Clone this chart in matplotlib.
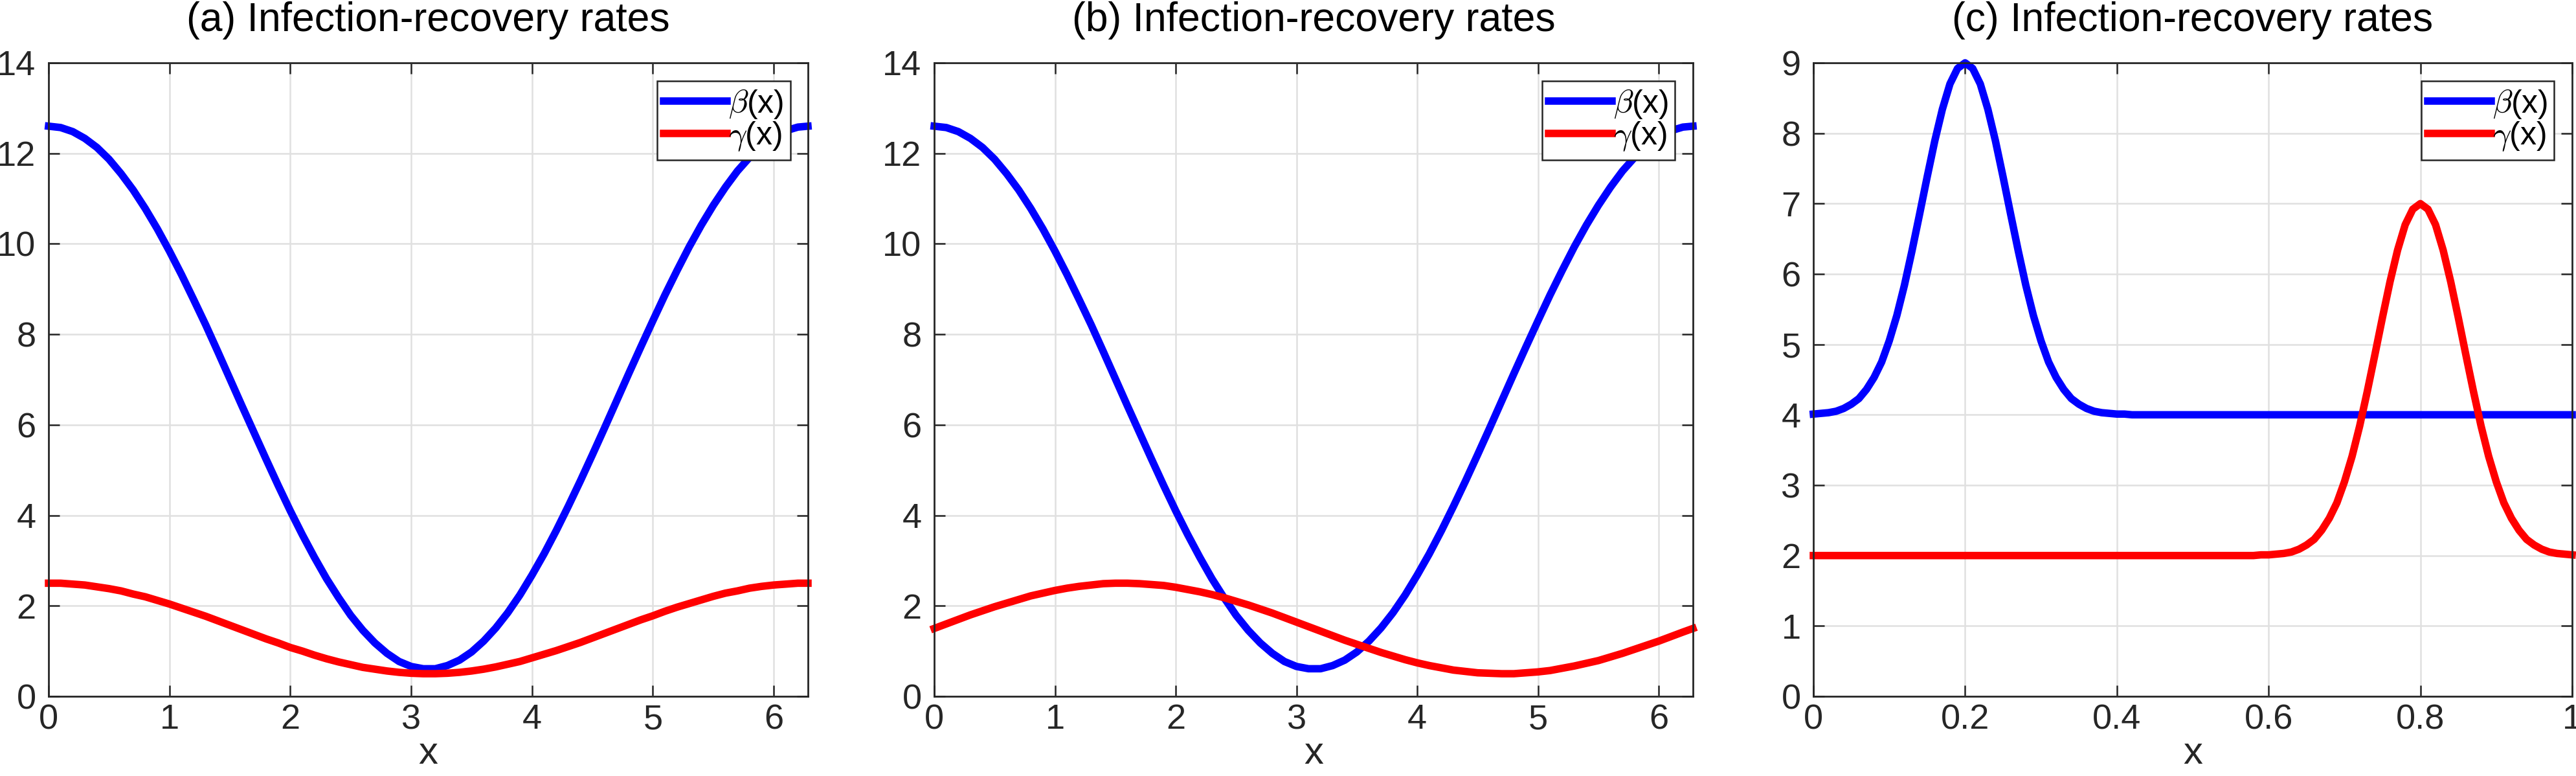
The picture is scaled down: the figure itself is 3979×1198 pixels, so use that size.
import numpy as np
import matplotlib
matplotlib.use("Agg")
import matplotlib.pyplot as plt

plt.rcParams['font.family'] = ['Liberation Sans', 'DejaVu Sans']
plt.rcParams['mathtext.fontset'] = 'cm'

# values, panels (a) and (b)
x_per = [0.0, 0.1, 0.2, 0.3, 0.4, 0.5, 0.6, 0.7, 0.8, 0.9, 1.0, 1.1, 1.2, 1.3, 1.4, 1.5,
         1.6, 1.7, 1.8, 1.9, 2.0, 2.1, 2.2, 2.3, 2.4, 2.5, 2.6, 2.7, 2.8, 2.9, 3.0, 3.1,
         3.2, 3.3, 3.4, 3.5, 3.6, 3.7, 3.8, 3.9, 4.0, 4.1, 4.2, 4.3, 4.4, 4.5, 4.6, 4.7,
         4.8, 4.9, 5.0, 5.1, 5.2, 5.3, 5.4, 5.5, 5.6, 5.7, 5.8, 5.9, 6.0, 6.1, 6.2, 6.2832]
beta_ab = [12.60, 12.57, 12.48, 12.33, 12.13, 11.87, 11.55, 11.19, 10.78, 10.33, 9.84, 9.32,
           8.77, 8.21, 7.62, 7.02, 6.42, 5.83, 5.24, 4.66, 4.10, 3.57, 3.07, 2.60, 2.18, 1.79,
           1.46, 1.18, 0.95, 0.77, 0.66, 0.61, 0.61, 0.68, 0.80, 0.98, 1.22, 1.51, 1.85, 2.24,
           2.68, 3.15, 3.66, 4.20, 4.76, 5.34, 5.93, 6.53, 7.13, 7.72, 8.30, 8.87, 9.41, 9.93,
           10.41, 10.85, 11.25, 11.61, 11.91, 12.17, 12.36, 12.50, 12.58, 12.60]
gamma_a = [2.50, 2.50, 2.48, 2.46, 2.42, 2.38, 2.33, 2.26, 2.20, 2.12, 2.04, 1.95, 1.86, 1.77,
           1.67, 1.57, 1.47, 1.37, 1.27, 1.18, 1.08, 1.00, 0.91, 0.83, 0.76, 0.70, 0.64, 0.60,
           0.56, 0.53, 0.51, 0.50, 0.50, 0.51, 0.53, 0.56, 0.60, 0.65, 0.71, 0.77, 0.85, 0.93,
           1.01, 1.10, 1.19, 1.29, 1.39, 1.49, 1.59, 1.69, 1.78, 1.88, 1.97, 2.05, 2.13, 2.21,
           2.28, 2.33, 2.39, 2.43, 2.46, 2.48, 2.50, 2.50]
gamma_b = [1.50, 1.60, 1.70, 1.80, 1.89, 1.98, 2.06, 2.14, 2.22, 2.28, 2.34, 2.39, 2.43, 2.46,
           2.49, 2.50, 2.50, 2.49, 2.47, 2.45, 2.41, 2.36, 2.31, 2.25, 2.18, 2.10, 2.02, 1.93,
           1.84, 1.74, 1.64, 1.54, 1.44, 1.34, 1.24, 1.15, 1.06, 0.97, 0.89, 0.81, 0.74, 0.68,
           0.63, 0.58, 0.55, 0.52, 0.51, 0.50, 0.50, 0.52, 0.54, 0.57, 0.62, 0.67, 0.73, 0.79,
           0.87, 0.95, 1.04, 1.13, 1.22, 1.32, 1.42, 1.50]

# panel (c)
x_c = [0.00, 0.01, 0.02, 0.03, 0.04, 0.05, 0.06, 0.07, 0.08, 0.09, 0.10, 0.11, 0.12, 0.13,
       0.14, 0.15, 0.16, 0.17, 0.18, 0.19, 0.20, 0.21, 0.22, 0.23, 0.24, 0.25, 0.26, 0.27,
       0.28, 0.29, 0.30, 0.31, 0.32, 0.33, 0.34, 0.35, 0.36, 0.37, 0.38, 0.39, 0.40, 0.41,
       0.42, 0.43, 0.44, 0.45, 0.46, 0.47, 0.48, 0.49, 0.50, 0.51, 0.52, 0.53, 0.54, 0.55,
       0.56, 0.57, 0.58, 0.59, 0.60, 0.61, 0.62, 0.63, 0.64, 0.65, 0.66, 0.67, 0.68, 0.69,
       0.70, 0.71, 0.72, 0.73, 0.74, 0.75, 0.76, 0.77, 0.78, 0.79, 0.80, 0.81, 0.82, 0.83,
       0.84, 0.85, 0.86, 0.87, 0.88, 0.89, 0.90, 0.91, 0.92, 0.93, 0.94, 0.95, 0.96, 0.97,
       0.98, 0.99, 1.00]
beta_c = [4.01, 4.02, 4.03, 4.05, 4.09, 4.15, 4.23, 4.36, 4.53, 4.75, 5.05, 5.41, 5.84, 6.33,
          6.85, 7.38, 7.89, 8.34, 8.70, 8.92, 9.00, 8.92, 8.70, 8.34, 7.89, 7.38, 6.85, 6.33,
          5.84, 5.41, 5.05, 4.75, 4.53, 4.36, 4.23, 4.15, 4.09, 4.05, 4.03, 4.02, 4.01, 4.01,
          4.00, 4.00, 4.00, 4.00, 4.00, 4.00, 4.00, 4.00, 4.00, 4.00, 4.00, 4.00, 4.00, 4.00,
          4.00, 4.00, 4.00, 4.00, 4.00, 4.00, 4.00, 4.00, 4.00, 4.00, 4.00, 4.00, 4.00, 4.00,
          4.00, 4.00, 4.00, 4.00, 4.00, 4.00, 4.00, 4.00, 4.00, 4.00, 4.00, 4.00, 4.00, 4.00,
          4.00, 4.00, 4.00, 4.00, 4.00, 4.00, 4.00, 4.00, 4.00, 4.00, 4.00, 4.00, 4.00, 4.00,
          4.00, 4.00, 4.00]
gamma_c = [2.00, 2.00, 2.00, 2.00, 2.00, 2.00, 2.00, 2.00, 2.00, 2.00, 2.00, 2.00, 2.00, 2.00,
           2.00, 2.00, 2.00, 2.00, 2.00, 2.00, 2.00, 2.00, 2.00, 2.00, 2.00, 2.00, 2.00, 2.00,
           2.00, 2.00, 2.00, 2.00, 2.00, 2.00, 2.00, 2.00, 2.00, 2.00, 2.00, 2.00, 2.00, 2.00,
           2.00, 2.00, 2.00, 2.00, 2.00, 2.00, 2.00, 2.00, 2.00, 2.00, 2.00, 2.00, 2.00, 2.00,
           2.00, 2.00, 2.00, 2.01, 2.01, 2.02, 2.03, 2.05, 2.09, 2.15, 2.23, 2.36, 2.53, 2.75,
           3.05, 3.41, 3.84, 4.33, 4.85, 5.38, 5.89, 6.34, 6.70, 6.92, 7.00, 6.92, 6.70, 6.34,
           5.89, 5.38, 4.85, 4.33, 3.84, 3.41, 3.05, 2.75, 2.53, 2.36, 2.23, 2.15, 2.09, 2.05,
           2.03, 2.02, 2.01]

titles = ['(a) Infection-recovery rates', '(b) Infection-recovery rates',
          '(c) Infection-recovery rates']
ticks_per_x = [0, 1, 2, 3, 4, 5, 6]
ticks_per_y = [0, 2, 4, 6, 8, 10, 12, 14]
ticks_c_x = [0, 0.2, 0.4, 0.6, 0.8, 1.0]
ticklabels_c_x = ['0', '0.2', '0.4', '0.6', '0.8', '1']
ticks_c_y = [0, 1, 2, 3, 4, 5, 6, 7, 8, 9]

W, H = 3980, 1198
fig = plt.figure(figsize=(W / 100, H / 100), dpi=100)

ink = '#262626'
lw = 8.3


def make_axes(left_px, right_px):
    top_px, bot_px = 97, 1075
    ax = fig.add_axes([left_px / W, (H - bot_px) / H, (right_px - left_px) / W, (bot_px - top_px) / H])
    for s in ax.spines.values():
        s.set_color(ink)
        s.set_linewidth(2.0)
    ax.tick_params(direction='in', top=True, right=True, length=12, width=1.8, colors=ink,
                   labelsize=39)
    ax.tick_params(axis='y', pad=14)
    ax.tick_params(axis='x', pad=8)
    ax.grid(True, color='#e0e0e0', linewidth=1.8)
    ax.set_axisbelow(True)
    return ax


def finish(ax, title):
    ax.set_title(title, fontsize=45, pad=35, color='black')
    ax.set_xlabel('x', fontsize=43, color=ink)
    ax.xaxis.set_label_coords(0.5, -0.062)
    leg = ax.legend(loc='upper right', fontsize=36, labelspacing=0.0, handlelength=1.96,
                    handletextpad=0.05, borderpad=0.2, borderaxespad=0.55, fancybox=False,
                    framealpha=1, edgecolor=ink)
    leg.get_frame().set_linewidth(1.8)


panels = [(75, 1248, gamma_a), (1443, 2615, gamma_b)]
for i, (l, r, gam) in enumerate(panels):
    ax = make_axes(l, r)
    ax.plot(x_per, beta_ab, color='blue', lw=lw, label=r'$\beta$(x)', clip_on=False,
            solid_capstyle='projecting')
    ax.plot(x_per, gam, color='red', lw=lw, label=r'$\gamma$(x)', clip_on=False,
            solid_capstyle='projecting')
    ax.set_xlim(0, 2 * np.pi)
    ax.set_ylim(0, 14)
    ax.set_xticks(ticks_per_x)
    ax.set_yticks(ticks_per_y)
    finish(ax, titles[i])

ax = make_axes(2801, 3973)
ax.plot(x_c, beta_c, color='blue', lw=lw, label=r'$\beta$(x)', clip_on=False,
        solid_capstyle='projecting')
ax.plot(x_c, gamma_c, color='red', lw=lw, label=r'$\gamma$(x)', clip_on=False,
        solid_capstyle='projecting')
ax.set_xlim(0, 1)
ax.set_ylim(0, 9)
ax.set_xticks(ticks_c_x)
ax.set_xticklabels(ticklabels_c_x)
ax.set_yticks(ticks_c_y)
finish(ax, titles[2])

fig.savefig('out.png', dpi=100)
